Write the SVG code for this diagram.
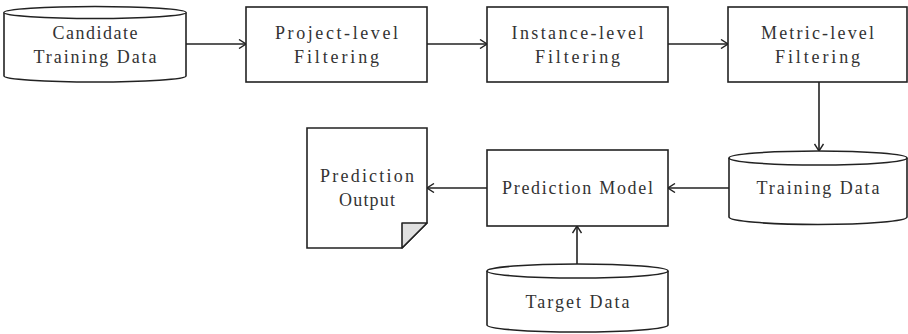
<svg xmlns="http://www.w3.org/2000/svg" width="908" height="334" viewBox="0 0 908 334">
  <defs>
    <marker id="arrow" viewBox="0 0 10 10" refX="9" refY="5" markerWidth="10" markerHeight="10" markerUnits="userSpaceOnUse" orient="auto">
      <path d="M2,0.5 L9,5 L2,9.5" fill="none" stroke="#222" stroke-width="1.4"/>
    </marker>
    <style>
      .shape { fill: #fff; stroke: #222; stroke-width: 1.6; }
      .fold { fill: #e0e0e0; stroke: #222; stroke-width: 1.6; stroke-linejoin: round; }
      .label { font-family: "Liberation Serif", "DejaVu Serif", serif; font-size: 18px; fill: #333; text-anchor: middle; }
      .link { fill: none; stroke: #222; stroke-width: 1.6; marker-end: url(#arrow); }
    </style>
  </defs>
  <rect width="908" height="334" fill="#fff"/>

  <!-- Connectors -->
  <g id="connectors">
    <line class="link" x1="186" y1="44" x2="246" y2="44"/>
    <line class="link" x1="427" y1="44" x2="487" y2="44"/>
    <line class="link" x1="668" y1="44" x2="728" y2="44"/>
    <line class="link" x1="819" y1="82" x2="819" y2="151"/>
    <line class="link" x1="729" y1="188" x2="668" y2="188"/>
    <line class="link" x1="487" y1="188" x2="427" y2="188"/>
    <line class="link" x1="577" y1="264" x2="577" y2="226"/>
  </g>

  <!-- Candidate training data store -->
  <g id="candidate-training-data">
    <path class="shape" d="M4,12.5 A91,6 0 0 1 186,12.5 L186,76 A91,6 0 0 1 4,76 Z"/>
    <path class="shape" fill="none" d="M4,12.5 A91,6 0 0 0 186,12.5"/>
    <text class="label" x="95" y="39" textLength="85" lengthAdjust="spacing">Candidate</text>
    <text class="label" x="95" y="63" textLength="123" lengthAdjust="spacing">Training Data</text>
  </g>

  <g id="project-level-filtering">
    <rect class="shape" x="246" y="7" width="181" height="75"/>
    <text class="label" x="336.5" y="39" textLength="123" lengthAdjust="spacing">Project-level</text>
    <text class="label" x="336.5" y="63" textLength="85" lengthAdjust="spacing">Filtering</text>
  </g>

  <g id="instance-level-filtering">
    <rect class="shape" x="487" y="7" width="181" height="75"/>
    <text class="label" x="577.5" y="39" textLength="132" lengthAdjust="spacing">Instance-level</text>
    <text class="label" x="577.5" y="63" textLength="85" lengthAdjust="spacing">Filtering</text>
  </g>

  <g id="metric-level-filtering">
    <rect class="shape" x="728" y="7" width="179" height="75"/>
    <text class="label" x="817.5" y="39" textLength="113" lengthAdjust="spacing">Metric-level</text>
    <text class="label" x="817.5" y="63" textLength="85" lengthAdjust="spacing">Filtering</text>
  </g>

  <!-- Filtered training data store -->
  <g id="training-data">
    <path class="shape" d="M729,158 A89,7 0 0 1 907,158 L907,217 A89,7.5 0 0 1 729,217 Z"/>
    <path class="shape" fill="none" d="M729,158 A89,7 0 0 0 907,158"/>
    <text class="label" x="818" y="194" textLength="123" lengthAdjust="spacing">Training Data</text>
  </g>

  <g id="prediction-model">
    <rect class="shape" x="487" y="150" width="181" height="76"/>
    <text class="label" x="577.5" y="194" textLength="151" lengthAdjust="spacing">Prediction Model</text>
  </g>

  <!-- Output document with folded corner -->
  <g id="prediction-output">
    <path class="shape" d="M307,128 L427,128 L427,223 L402,248 L307,248 Z"/>
    <path class="fold" d="M427,223 L402,223 L402,248 Z"/>
    <text class="label" x="367" y="182" textLength="94" lengthAdjust="spacing">Prediction</text>
    <text class="label" x="367" y="206" textLength="56" lengthAdjust="spacing">Output</text>
  </g>

  <g id="target-data">
    <path class="shape" d="M487,271 A90.5,7 0 0 1 668,271 L668,325 A90.5,7 0 0 1 487,325 Z"/>
    <path class="shape" fill="none" d="M487,271 A90.5,7 0 0 0 668,271"/>
    <text class="label" x="577.5" y="308" textLength="104" lengthAdjust="spacing">Target Data</text>
  </g>
</svg>
